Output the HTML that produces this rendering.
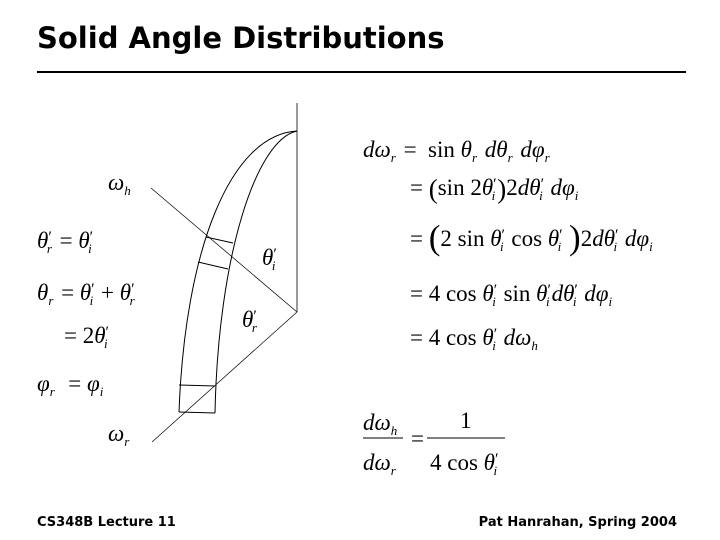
<!DOCTYPE html>
<html><head><meta charset="utf-8"><style>
body{margin:0;width:720px;height:540px;background:#fff;position:relative;overflow:hidden}
.t{position:absolute;font-family:"DejaVu Sans","Liberation Sans",sans-serif;font-weight:bold;color:#000;white-space:nowrap}
.m{position:absolute;font-family:"Liberation Serif",serif;font-size:23px;line-height:22px;white-space:nowrap;color:#000}
.m i{font-style:italic}
.m sub{font-size:13px;font-style:italic;vertical-align:-5px;line-height:0;margin-right:2px}
.m sup{font-size:16px;vertical-align:6px;line-height:0}
.m sup+sub{margin-left:-5px}
.big{vertical-align:-3px;line-height:0}
</style></head><body>
<div class="t" style="left:37px;top:21px;font-size:29px;letter-spacing:0px">Solid Angle Distributions</div>
<div style="position:absolute;left:37px;top:71px;width:649px;height:2px;background:#000"></div>
<div class="t" style="left:37px;top:515px;font-size:13px">CS348B Lecture 11</div>
<div class="t" style="right:43px;top:515px;font-size:13px">Pat Hanrahan, Spring 2004</div>

<svg style="position:absolute;left:0;top:0" width="720" height="540">
<g stroke="#000" fill="none" stroke-width="1">
<line x1="297" y1="103" x2="297" y2="312" stroke-width="0.8"/>
<path d="M297,131 C230,135 185,250 179,412"/>
<path d="M297,131 C255,140 218,260 215,413"/>
<line x1="151" y1="188" x2="297" y2="312" stroke-width="0.7"/>
<line x1="297" y1="312" x2="152" y2="442" stroke-width="0.7"/>
<line x1="206" y1="237" x2="233" y2="243"/>
<line x1="198" y1="262" x2="228" y2="269"/>
<line x1="179" y1="385" x2="215" y2="386"/>
<line x1="179" y1="412" x2="215" y2="413"/>
<line x1="363" y1="438" x2="403" y2="438"/>
<line x1="427" y1="438" x2="505" y2="438"/>
</g>
</svg>

<div class="m" style="left:108px;top:172px"><i>ω</i><sub>h</sub></div>
<div class="m" style="left:108px;top:423px"><i>ω</i><sub>r</sub></div>
<div class="m" style="left:262px;top:247px"><i>θ</i><sup>′</sup><sub>i</sub></div>
<div class="m" style="left:242px;top:309px"><i>θ</i><sup>′</sup><sub>r</sub></div>

<div class="m" style="left:37px;top:230px"><i>θ</i><sup>′</sup><sub>r</sub> = <i>θ</i><sup>′</sup><sub>i</sub></div>
<div class="m" style="left:37px;top:282px"><i>θ</i><sub>r</sub> = <i>θ</i><sup>′</sup><sub>i</sub> + <i>θ</i><sup>′</sup><sub>r</sub></div>
<div class="m" style="left:64px;top:325px">= 2<i>θ</i><sup>′</sup><sub>i</sub></div>
<div class="m" style="left:37px;top:373px"><i>φ</i><sub>r</sub> &nbsp;= <i>φ</i><sub>i</sub></div>

<div class="m" style="left:363px;top:139px"><i>dω</i><sub>r</sub> = &nbsp;sin <i>θ</i><sub>r</sub> <i>dθ</i><sub>r</sub> <i>dφ</i><sub>r</sub></div>
<div class="m" style="left:410px;top:177px">= <span class="big" style="font-size:27px">(</span>sin 2<i>θ</i><sup>′</sup><sub>i</sub><span class="big" style="font-size:27px">)</span>2<i>dθ</i><sup>′</sup><sub>i</sub> <i>dφ</i><sub>i</sub></div>
<div class="m" style="left:410px;top:228px">= <span class="big" style="font-size:35px">(</span>2 sin <i>θ</i><sup>′</sup><sub>i</sub> cos <i>θ</i><sup>′</sup><sub>i</sub> <span class="big" style="font-size:35px">)</span>2<i>dθ</i><sup>′</sup><sub>i</sub> <i>dφ</i><sub>i</sub></div>
<div class="m" style="left:410px;top:283px">= 4 cos <i>θ</i><sup>′</sup><sub>i</sub> sin <i>θ</i><sup>′</sup><sub>i</sub><i>dθ</i><sup>′</sup><sub>i</sub> <i>dφ</i><sub>i</sub></div>
<div class="m" style="left:410px;top:327px">= 4 cos <i>θ</i><sup>′</sup><sub>i</sub> <i>dω</i><sub>h</sub></div>

<div class="m" style="left:363px;top:412px"><i>dω</i><sub>h</sub></div>
<div class="m" style="left:363px;top:452px"><i>dω</i><sub>r</sub></div>
<div class="m" style="left:411px;top:428px">=</div>
<div class="m" style="left:460px;top:410px">1</div>
<div class="m" style="left:430px;top:452px">4 cos <i>θ</i><sup>′</sup><sub>i</sub></div>
</body></html>
